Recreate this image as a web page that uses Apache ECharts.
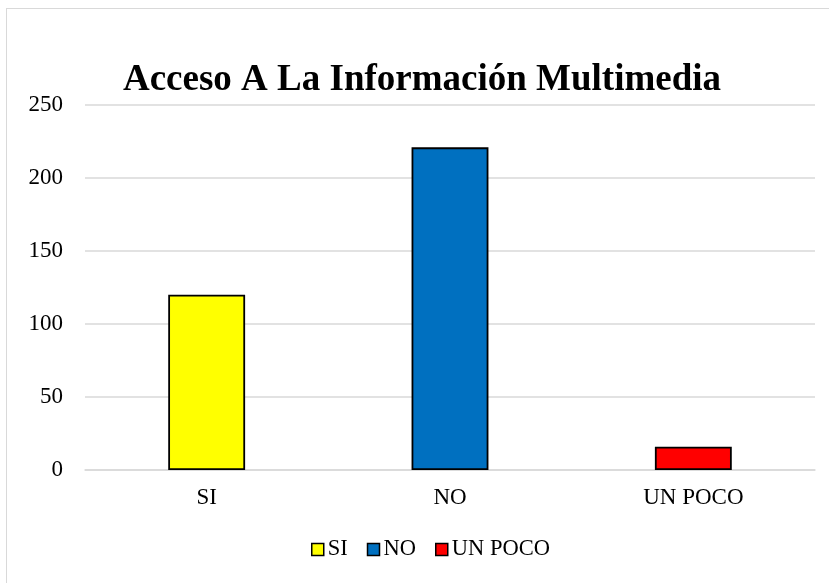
<!DOCTYPE html>
<html><head><meta charset="utf-8">
<script src="https://cdn.jsdelivr.net/npm/echarts@6/dist/echarts.min.js"></script>
<style>
html,body{margin:0;padding:0;background:#fff;overflow:hidden}
#frame{position:absolute;left:6px;top:8px;width:840px;height:600px;border:1.5px solid #d9d9d9;box-sizing:border-box}
#c{position:absolute;left:0;top:0;width:829px;height:583px}
</style></head>
<body><div id="frame"></div><div id="c"></div>
<script>
var categories = ['SI', 'NO', 'UN POCO'];
var values = [120, 221, 16];
var colors = ['#FFFF00', '#0070C0', '#FF0000'];
var yTicks = [0, 50, 100, 150, 200, 250];

var chart = echarts.init(document.getElementById('c'));
var font = '"Liberation Serif", "Times New Roman", serif';
var series = categories.map(function (name, i) {
  return {
    name: name,
    type: 'bar',
    stack: 'all',
    barWidth: '31.6%',
    data: categories.map(function (_, j) { return j === i ? values[i] : '-'; }),
    itemStyle: { color: colors[i], borderColor: '#000', borderWidth: 1.8 }
  };
});
chart.setOption({
  animation: false,
  title: {
    text: 'Acceso A La Información Multimedia',
    left: 417, top: 57, textAlign: 'center',
    textStyle: { fontFamily: font, fontWeight: 'bold', fontSize: 37, color: '#000' }
  },
  legend: {
    bottom: 17, left: 306,
    itemWidth: 12, itemHeight: 12, itemGap: 19,
    icon: 'rect',
    textStyle: { fontFamily: font, fontSize: 22.5, color: '#000', padding: [0, 0, 0, -1] },
    data: categories.map(function (c, i) {
      return { name: c, itemStyle: { color: colors[i], borderColor: '#000', borderWidth: 1.5 } };
    })
  },
  grid: { left: 85, right: 14, top: 105, bottom: 113, containLabel: false },
  xAxis: {
    type: 'category', data: categories,
    axisLine: { lineStyle: { color: '#d9d9d9', width: 1.5 } },
    axisTick: { show: false },
    axisLabel: { fontFamily: font, fontSize: 23, color: '#000', margin: 16 }
  },
  yAxis: {
    type: 'value', min: yTicks[0], max: yTicks[yTicks.length - 1], interval: 50,
    axisLine: { show: false }, axisTick: { show: false },
    axisLabel: { fontFamily: font, fontSize: 23, color: '#000', margin: 22 },
    splitLine: { lineStyle: { color: '#d9d9d9', width: 1.5 } }
  },
  series: series
});
</script></body></html>
